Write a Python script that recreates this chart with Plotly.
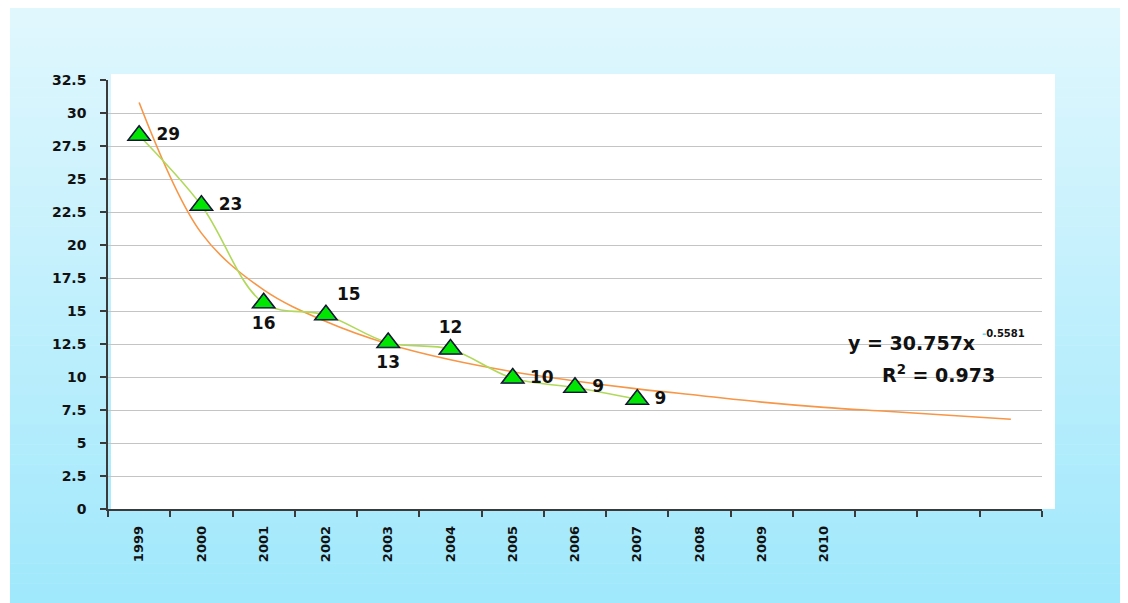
import plotly.graph_objects as go

# --- data -------------------------------------------------------------
TICK_LABELS = ["1999", "2000", "2001", "2002", "2003", "2004",
               "2005", "2006", "2007", "2008", "2009", "2010"]
N_SLOTS = 15  # category slots on the axis (last three without label)

POINT_X = [1, 2, 3, 4, 5, 6, 7, 8, 9]
POINT_Y = [28.3, 23.0, 15.6, 14.7, 12.6, 12.1, 9.9, 9.2, 8.3]
POINT_TEXT = ["29", "23", "16", "15", "13", "12", "10", "9", "9"]

# power trend line, one value per slot
TREND_X = list(range(1, 16))
TREND_Y = [30.8, 20.9, 16.6, 14.2, 12.5, 11.3, 10.4, 9.7,
           9.1, 8.6, 8.1, 7.7, 7.4, 7.1, 6.8]

EQUATION = "y = 30.757x"
EXPONENT = "0.5581"
R2_TEXT = "R<sup>2</sup> = 0.973"

# --- style ------------------------------------------------------------
OFF = 8                      # page body margin of the exported html
W, H = 1128 - OFF, 603 - OFF
L, T = 108 - OFF, 80 - OFF
R = W - (1042 - OFF)
B = H - (509 - OFF)
FONT = "DejaVu Sans, Verdana, sans-serif"
TEXT_POS = ["middle right", "middle right", "bottom center", "top right",
            "bottom center", "top center", "middle right", "middle right",
            "middle right"]
TEXT_GAP = [26, 26, 20, 16, 18, 18, 26, 26, 26]


def px_x(p):
    # p is a pixel x in the reference screenshot
    return (p - OFF - L) / (W - L - R)


def px_y(p):
    return (H - B - (p - OFF)) / (H - T - B)


def mix(c1, c2, t):
    return "#%02x%02x%02x" % tuple(round(a + (b - a) * t) for a, b in zip(c1, c2))


shapes = []
# light-blue gradient backdrop
top_c, bot_c = (224, 247, 253), (160, 232, 252)
bands = 60
y0_px, y1_px = OFF, 603
step = (y1_px - y0_px) / bands
for i in range(bands):
    a = y0_px + i * step
    shapes.append(dict(
        type="rect", xref="paper", yref="paper", layer="below",
        x0=px_x(10), x1=px_x(1128), y0=px_y(a + step + 0.5), y1=px_y(a),
        fillcolor=mix(top_c, bot_c, i / (bands - 1)), line_width=0,
    ))
# white plot panel
shapes.append(dict(
    type="rect", xref="paper", yref="paper", layer="below",
    x0=px_x(111), x1=px_x(1055), y0=px_y(509), y1=px_y(74),
    fillcolor="white", line_width=0,
))

fig = go.Figure()

fig.add_trace(go.Scatter(
    x=TREND_X, y=TREND_Y, mode="lines", line_shape="spline",
    line=dict(color="#f79646", width=1.6), hoverinfo="skip",
))

fig.add_trace(go.Scatter(
    x=POINT_X, y=POINT_Y, mode="lines", line_shape="spline",
    line=dict(color="#b0d95a", width=1.6), hoverinfo="skip",
))

# data labels (invisible marker just to push the text off the point)
fig.add_trace(go.Scatter(
    x=POINT_X, y=POINT_Y, mode="markers+text", hoverinfo="skip",
    marker=dict(size=TEXT_GAP, color="white", opacity=0, line=dict(width=0)),
    text=POINT_TEXT, textposition=TEXT_POS,
    textfont=dict(family=FONT, size=17, color="#111", weight="bold"),
))

# dark underlay that reads as the marker shadow
fig.add_trace(go.Scatter(
    x=POINT_X, y=POINT_Y, mode="markers", hoverinfo="skip",
    marker=dict(symbol="triangle-up", size=22, color="#0d0d1a",
                line=dict(width=0)),
))

fig.add_trace(go.Scatter(
    x=POINT_X, y=POINT_Y, mode="markers",
    marker=dict(symbol="triangle-up", size=18, color="#00e600",
                line=dict(color="#1b2550", width=1)),
))

fig.add_annotation(
    xref="paper", yref="paper", x=px_x(846), y=px_y(343),
    xanchor="left", yanchor="middle", showarrow=False,
    text=EQUATION, font=dict(family=FONT, size=19, color="#111", weight="bold"),
)
fig.add_annotation(
    xref="paper", yref="paper", x=px_x(980), y=px_y(333),
    xanchor="left", yanchor="middle", showarrow=False,
    text="<span style='color:#5fd8f0'>-</span>" + EXPONENT,
    font=dict(family=FONT, size=10, color="#111", weight="bold"),
)
fig.add_annotation(
    xref="paper", yref="paper", x=px_x(880), y=px_y(374),
    xanchor="left", yanchor="middle", showarrow=False,
    text=R2_TEXT, font=dict(family=FONT, size=19, color="#111", weight="bold"),
)

fig.update_layout(
    width=W, height=H,
    margin=dict(l=L, r=R, t=T, b=B, pad=0),
    paper_bgcolor="white", plot_bgcolor="rgba(0,0,0,0)",
    showlegend=False, shapes=shapes,
    font=dict(family=FONT, size=14, color="#111"),
)

fig.update_xaxes(
    range=[0.5, N_SLOTS + 0.5],
    tickmode="array", tickvals=list(range(1, len(TICK_LABELS) + 1)),
    ticktext=TICK_LABELS, tickangle=-90, ticks="",
    ticklabelstandoff=10,
    tickfont=dict(family=FONT, size=13, color="#111", weight="bold"),
    showgrid=False, zeroline=False,
    showline=True, linecolor="#3a3a3a", linewidth=1.5,
    minor=dict(tickmode="array",
               tickvals=[i + 0.5 for i in range(N_SLOTS + 1)],
               ticks="outside", ticklen=6, tickcolor="#3a3a3a", tickwidth=1.5,
               showgrid=False),
)

fig.update_yaxes(
    range=[0, 32.5], tick0=0, dtick=2.5,
    ticks="outside", ticklen=6, tickcolor="#3a3a3a", tickwidth=1.5,
    ticklabelstandoff=11,
    tickfont=dict(family=FONT, size=14, color="#111", weight="bold"),
    showgrid=True, gridcolor="#c4c4c4", gridwidth=1.2,
    zeroline=False,
    showline=True, linecolor="#3a3a3a", linewidth=1.5,
)

fig.write_html("out.html")
